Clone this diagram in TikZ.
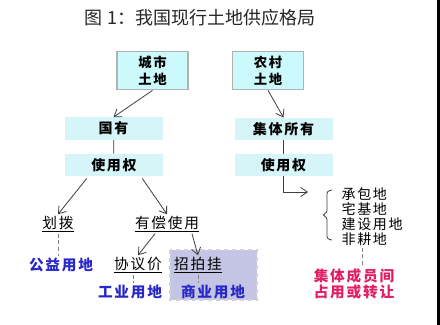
\documentclass[tikz,border=0pt]{standalone}
\usepackage{fontspec}
\newfontfamily\cjk[LetterSpace=12]{Noto Sans CJK SC}
\newfontfamily\cjktitle{Noto Sans CJK SC}
\usetikzlibrary{arrows.meta,calc}
\definecolor{boxcyan}{RGB}{204,250,252}
\definecolor{bandcyan}{RGB}{214,245,248}
\definecolor{landblue}{RGB}{40,40,200}
\definecolor{landred}{RGB}{228,30,100}
\definecolor{lavshade}{RGB}{196,196,228}

\begin{document}
\begin{tikzpicture}[x=0.75pt,y=-0.75pt,>={Straight Barb[length=5pt,width=7pt]},
 landbox/.style={draw=gray!60,line width=1.2pt,fill=boxcyan,minimum width=53pt,minimum height=26pt,align=center,font=\cjk\bfseries\fontsize{10}{12.5}\selectfont},
 band/.style={fill=bandcyan,minimum width=73.5pt,minimum height=15.5pt,font=\cjk\bfseries\fontsize{10.5}{13}\selectfont},
 word/.style={font=\cjk\fontsize{11}{13}\selectfont,inner sep=1pt},
 blueword/.style={word,text=landblue,font=\cjk\bfseries\fontsize{11}{13}\selectfont},
 arr/.style={->,draw=black!75,line width=0.6pt},
 dotline/.style={densely dashed,draw=gray,line width=0.7pt}]
\useasboundingbox (0,0) rectangle (440,325);
\fill[white] (0,0) rectangle (440,325);
\fill[black] (437,0) rectangle (440,325);
\node[font=\cjktitle\fontsize{13.5}{16}\selectfont,text=black!85] (title) at (200,18) {图 1：我国现行土地供应格局};
% land types
\node[landbox] (cityland) at (152.5,70.5) {城市\\土地};
\node[landbox] (ruralland) at (268,70.5) {农村\\土地};
\node[band] (stateown) at (113.5,128.5) {国有};
\node[band] (leftuse) at (114,165) {使用权};
\node[band] (collown) at (283.5,129) {集体所有};
\node[band] (rightuse) at (283.5,165) {使用权};
\draw[arr] (cityland.south) -- (stateown.north);
\draw[arr] (ruralland.south) -- (collown.north);
\draw[draw=black!75,line width=0.6pt] (stateown) -- (leftuse);
\draw[draw=black!75,line width=0.6pt] (collown) -- (rightuse);
% state land
\fill[lavshade,draw=gray!35,dashed,line width=1pt] (170,250) rectangle (257,300);
\node[word] (huabo) at (58,224) {\underline{划拨}};
\node[word] (youchang) at (167,224) {\underline{有偿使用}};
\node[blueword] (gongyi) at (61,265) {公益用地};
\node[word] (xieyi) at (138,265) {\underline{协议价}};
\node[word] (zhaopai) at (198,265) {\underline{招拍挂}};
\node[blueword] (gongye) at (130,292) {工业用地};
\node[blueword] (shangye) at (213,292) {商业用地};
\draw[arr] ($(leftuse.south west)+(22,2)$) -- (huabo.north);
\draw[arr] ($(leftuse.south east)+(-21,2)$) -- (youchang.north);
\draw[arr] ($(youchang.south)+(-12,0)$) -- (xieyi.north);
\draw[arr] ($(youchang.south)+(25,0)$) -- (zhaopai.north);
\draw[dotline] (huabo.south) -- (huabo.south |- gongyi.north);
\draw[dotline] ($(xieyi.south)+(-5,0)$) -- ($(xieyi.south |- gongye.north)+(-5,0)$);
\draw[dotline] (zhaopai.south) -- (zhaopai.south |- shangye.north);
% collective land
\coordinate (listin) at (308,192);
\draw[arr] (rightuse.south) |- (listin);
\draw[draw=black!75,line width=0.6pt,rounded corners=2pt] (332,190) -- (327,191) -- (327,213) -- (322,215) -- (327,217) -- (327,239) -- (332,240);
\node[word,anchor=west,align=left,font=\cjk\fontsize{10.5}{11.3}\selectfont] (list) at (340,217) {承包地\\宅基地\\建设用地\\非耕地};
\node[word,align=center,text=landred,font=\cjk\bfseries\fontsize{11}{10}\selectfont] (collect) at (354,284) {集体成员间\\占用或转让};
\draw[dotline] ($(list.south)+(-10,0)$) -- ($(list.south |- collect.north)+(-10,0)$);
\end{tikzpicture}
\end{document}
